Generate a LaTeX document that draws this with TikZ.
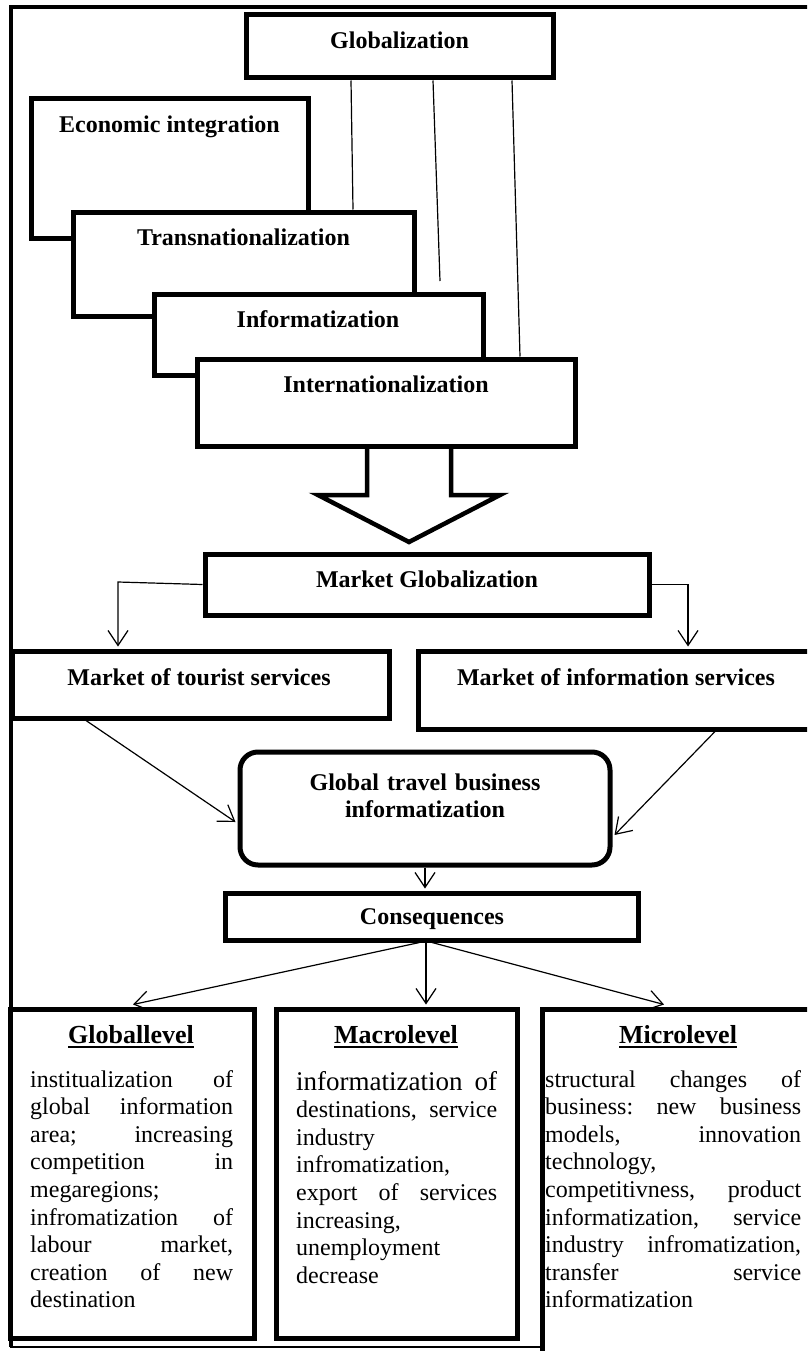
\documentclass[tikz,border=0pt]{standalone}
\usepackage{fontspec}
\setmainfont{Liberation Serif}
\usetikzlibrary{arrows.meta,calc}
\newcommand\ulhead[1]{\setbox0=\hbox{#1}\rlap{\rule[-5pt]{\wd0}{2.5pt}}\box0}
\tikzset{
  box/.style={draw, line width=5pt, fill=white, inner sep=0pt},
  ttl/.style={font=\fontsize{24}{27.6}\selectfont\bfseries, inner sep=0pt, anchor=base, align=center},
  hdr/.style={font=\fontsize{26}{30}\selectfont\bfseries, inner sep=0pt, anchor=base},
  body/.style={font=\fontsize{24}{27.6}\selectfont, inner sep=0pt, anchor=base west, align=left},
  thinline/.style={line width=1.2pt},
  arr/.style={line width=1.2pt, -{Straight Barb[length=15pt,width=20pt]}},
}
\begin{document}
\begin{tikzpicture}[x=1pt,y=-1pt]
\useasboundingbox (0,0) rectangle (807,1351);
\clip (0,0) rectangle (807,1351);
% outer frame
\draw[line width=4.5pt] (830,7) -- (11,7) -- (11,1347);
\draw[line width=2.5pt] (10,1347) -- (542,1347);
% boxes
\node[box, minimum width=307pt, minimum height=63pt] (glob) at (399.5,46.5) {};
\node[box, minimum width=277pt, minimum height=139pt] (econ) at (169.5,168.5) {};
\node[box, minimum width=341pt, minimum height=104pt] (trans) at (243.5,264) {};
\node[box, minimum width=329pt, minimum height=81pt] (inform) at (318.5,334.5) {};
\node[box, minimum width=378pt, minimum height=87pt] (intern) at (386,402.5) {};
\coordinate (gfree) at (440,281);
\draw[thinline] ($(glob.south)+(-48.5,0)$) -- ($(trans.north)+(109.5,0)$);
\draw[thinline] ($(glob.south)+(33.5,0)$) -- (gfree);
\draw[thinline] ($(glob.south)+(112.5,0)$) -- ($(intern.north)+(134,0)$);
% hollow arrow
\draw[line width=4.5pt] (367,446) -- (367,495) -- (318,495) -- (409,542) -- (500,495) -- (451,495) -- (451,446);
\node[box, minimum width=444pt, minimum height=61pt] (mglob) at (427,584.5) {};
\node[box, minimum width=377pt, minimum height=67pt] (tour) at (200.5,684.5) {};
\node[box, minimum width=412pt, minimum height=78pt] (info) at (624,690) {};
\node[box, rounded corners=18pt, minimum width=370pt, minimum height=113pt] (gtbi) at (425,808.5) {};
\node[box, minimum width=413pt, minimum height=47pt] (conseq) at (431.5,916.5) {};
\node[box, minimum width=244pt, minimum height=329pt] (glev) at (132,1173.5) {};
\node[box, minimum width=241pt, minimum height=329pt] (macl) at (396.5,1173.5) {};
\node[box, minimum width=288pt, minimum height=361pt] (micl) at (686,1189.5) {};
% titles
\node[ttl] (tglob) at (399.5,49) {Globalization};
\node[ttl] (tecon) at (169.5,133) {Economic integration};
\node[ttl] (ttrans) at (243.5,245) {Transnationalization};
\node[ttl] (tinform) at (318,327) {Informatization};
\node[ttl] (tintern) at (386,392) {Internationalization};
\node[ttl] (tmglob) at (427,587) {Market Globalization};
\node[ttl] (ttour) at (199,685) {Market of tourist services};
\node[ttl] (tinfo) at (616,685) {Market of information services};
\node[ttl, text width=370pt] (tgtbi) at (425,790) {Global travel business\\informatization};
\node[ttl] (tcons) at (432,924) {Consequences};
\node[hdr] (hglob) at (131,1043) {\ulhead{Globallevel}};
\node[hdr] (hmac) at (396,1043) {\ulhead{Macrolevel}};
\node[hdr] (hmic) at (678,1043) {\ulhead{Microlevel}};
% body texts
\node[body, text width=203pt] (gtxt) at (30,1087) {institualization\hfill of\\
global\hfill information\\
area;\hfill increasing\\
competition\hfill in\\
megaregions;\\
infromatization\hfill of\\
labour\hfill market,\\
creation\hfill of\hfill new\\
destination};
\node[body, text width=201pt] (mtxt) at (296,1090) {{\fontsize{27}{28}\selectfont informatization\hfill of}\\
destinations,\hfill service\\
industry\\
infromatization,\\
export\hfill of\hfill services\\
increasing,\\
unemployment\\
decrease};
\node[body, text width=256pt] (ctxt) at (545,1087) {structural\hfill changes\hfill of\\
business:\hfill new\hfill business\\
models,\hfill innovation\\
technology,\\
competitivness,\hfill product\\
informatization,\hfill service\\
industry\hfill infromatization,\\
transfer\hfill service\\
informatization};
% connectors
\draw[arr] (mglob.west) -- (118,582) -- ($(tour.north)+(-82.5,-2)$);
\draw[arr] (mglob.east) -- (688,584.5) -- ($(info.north)+(64,-2)$);
\draw[arr] ($(tour.south)+(-114.5,0)$) -- ($(gtbi.west)+(-2,13.5)$);
\draw[arr] ($(info.south)+(91,0)$) -- ($(gtbi.east)+(2,26.5)$);
\draw[arr] (gtbi.south) -- ($(conseq.north)+(-6.5,-2)$);
\draw[arr] ($(conseq.south)+(-12,0)$) -- ($(glev.north)+(1,-2)$);
\draw[arr] ($(conseq.south)+(-5.5,0)$) -- ($(macl.north)+(29.5,-2)$);
\draw[arr] ($(conseq.south)+(0.5,0)$) -- ($(micl.north)+(-22,-2)$);
\end{tikzpicture}
\end{document}
